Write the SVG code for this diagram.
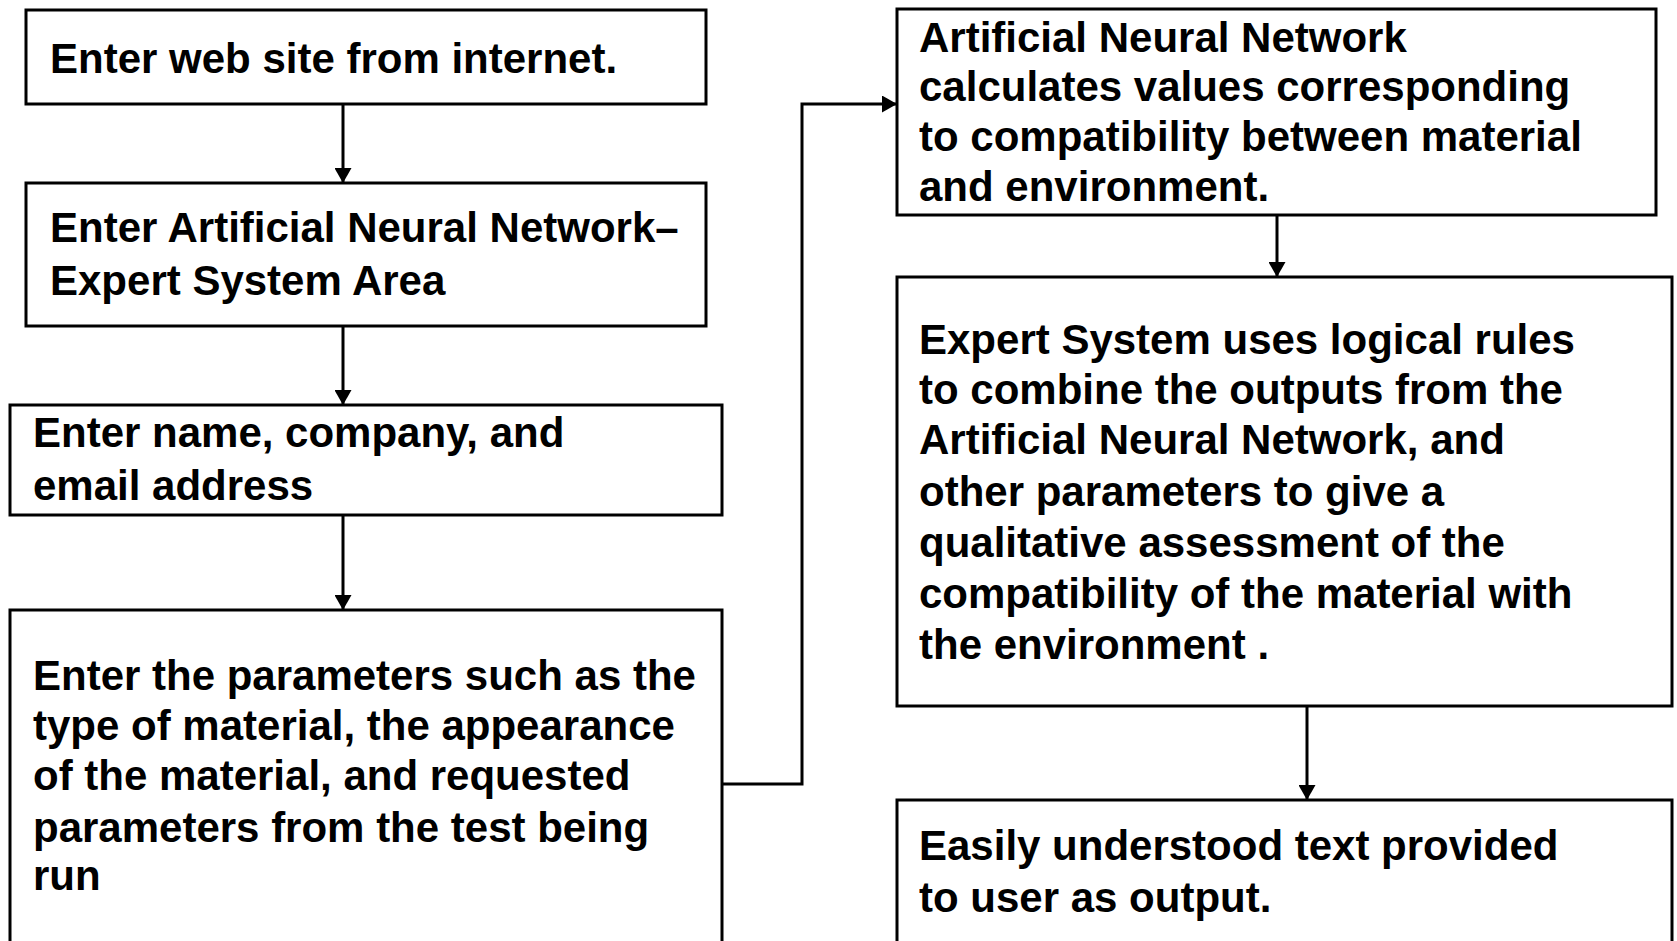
<svg xmlns="http://www.w3.org/2000/svg" width="1677" height="941" viewBox="0 0 1677 941">
<defs>
<marker id="ah" markerWidth="15" markerHeight="17" refX="15" refY="8.5" orient="auto" markerUnits="userSpaceOnUse">
<path d="M0,0 L15,8.5 L0,17 Z" fill="#000"/>
</marker>
<style>
.box{fill:#fff;stroke:#000;stroke-width:3}
.t{font-family:"Liberation Sans",Arial,sans-serif;font-weight:bold;font-size:42px;fill:#000}
.c{fill:none;stroke:#000;stroke-width:3;marker-end:url(#ah)}
</style>
</defs>
<rect width="1677" height="941" fill="#fff"/>
<g id="n1"><rect class="box" x="26" y="10" width="680" height="94"/>
<text class="t" x="50" y="73">Enter web site from internet.</text></g>
<g id="n2"><rect class="box" x="26" y="183" width="680" height="143"/>
<text class="t" x="50" y="242">Enter Artificial Neural Network–</text>
<text class="t" x="50" y="295">Expert System Area</text></g>
<g id="n3"><rect class="box" x="10" y="405" width="712" height="110"/>
<text class="t" x="33" y="447">Enter name, company, and</text>
<text class="t" x="33" y="500">email address</text></g>
<g id="n4"><rect class="box" x="10" y="610" width="712" height="345"/>
<text class="t" x="33" y="690">Enter the parameters such as the</text>
<text class="t" x="33" y="740">type of material, the appearance</text>
<text class="t" x="33" y="790">of the material, and requested</text>
<text class="t" x="33" y="842">parameters from the test being</text>
<text class="t" x="33" y="890">run</text></g>
<g id="n5"><rect class="box" x="897" y="9" width="759" height="206"/>
<text class="t" x="919" y="52">Artificial Neural Network</text>
<text class="t" x="919" y="101">calculates values corresponding</text>
<text class="t" x="919" y="151">to compatibility between material</text>
<text class="t" x="919" y="201">and environment.</text></g>
<g id="n6"><rect class="box" x="897" y="277" width="775" height="429"/>
<text class="t" x="919" y="354">Expert System uses logical rules</text>
<text class="t" x="919" y="404">to combine the outputs from the</text>
<text class="t" x="919" y="454">Artificial Neural Network, and</text>
<text class="t" x="919" y="506">other parameters to give a</text>
<text class="t" x="919" y="557">qualitative assessment of the</text>
<text class="t" x="919" y="608">compatibility of the material with</text>
<text class="t" x="919" y="659">the environment .</text></g>
<g id="n7"><rect class="box" x="897" y="800" width="775" height="160"/>
<text class="t" x="919" y="860">Easily understood text provided</text>
<text class="t" x="919" y="912">to user as output.</text></g>
<g id="connectors">
<path class="c" d="M343,104 L343,183"/>
<path class="c" d="M343,326 L343,405"/>
<path class="c" d="M343,515 L343,610"/>
<path class="c" d="M722,784 L802,784 L802,104 L897,104"/>
<path class="c" d="M1277,215 L1277,277"/>
<path class="c" d="M1307,706 L1307,800"/>
</g>
</svg>
